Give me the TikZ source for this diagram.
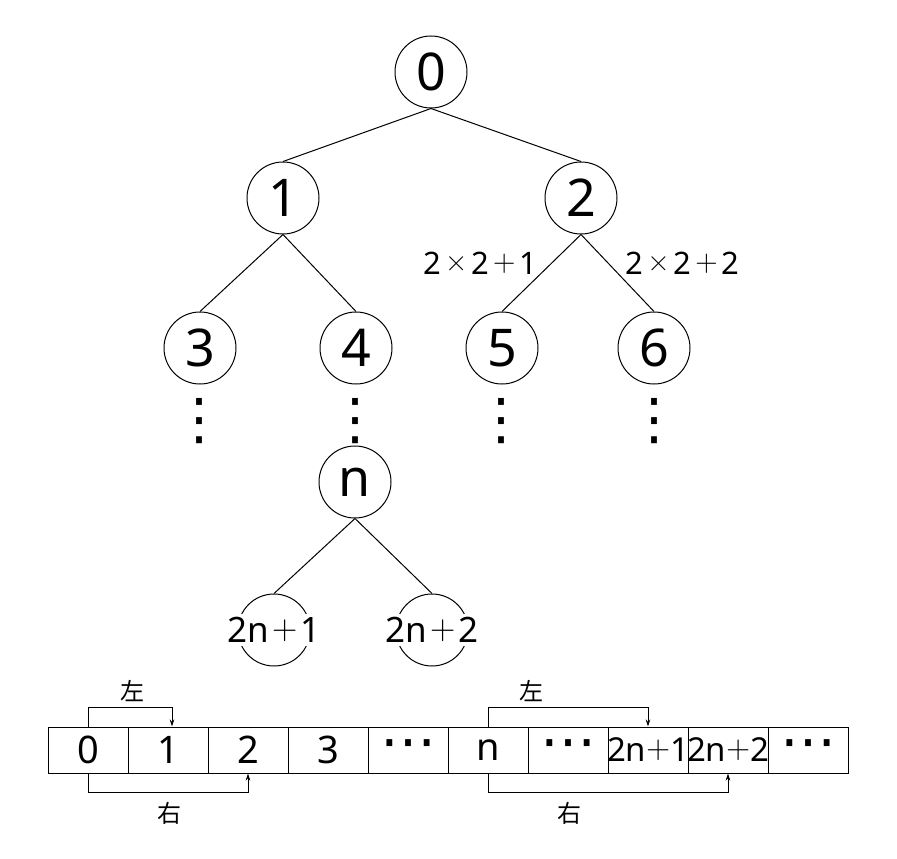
\documentclass[tikz,border=0pt]{standalone}
\usepackage{fontspec}
\setmainfont{Noto Sans}
\newfontfamily\cjk{Noto Sans CJK SC}
\newfontfamily\symf{DejaVu Sans}
\newfontfamily\lmf{Latin Modern Roman}
\usetikzlibrary{arrows.meta}
\newcommand{\mplus}[1][.08em]{\kern#1\raisebox{.1em}{\lmf +}\kern#1}
\newcommand{\mtimes}[1][.05em]{\kern#1\raisebox{.1em}{\lmf ×}\kern#1}
\begin{document}
\begin{tikzpicture}[x=1pt,y=-1pt,
 tnode/.style={circle,draw,line width=1pt,minimum size=72pt,inner sep=0pt,font=\fontsize{52}{52}\selectfont},
 ring/.style={circle,draw,line width=1pt,minimum size=72pt,inner sep=0pt},
 ringtext/.style={fill=white,inner xsep=1pt,inner ysep=3pt,font=\fontsize{35}{35}\selectfont},
 edge/.style={line width=1pt},
 elabel/.style={inner sep=0pt,font=\fontsize{31}{31}\selectfont},
 vdotsn/.style={inner sep=0pt,font=\symf\fontsize{56}{56}\selectfont},
 cell/.style={rectangle,draw,line width=1pt,minimum width=80pt,minimum height=46pt,inner sep=0pt,font=\fontsize{38}{38}\selectfont},
 celldots/.style={cell,font=\symf\fontsize{56}{56}\selectfont},
 smallcell/.style={cell,font=\fontsize{33}{33}\selectfont},
 arr/.style={line width=0.8pt,-{Stealth[length=7pt,width=4.5pt]}},
 cjklabel/.style={inner sep=0pt,font=\cjk\fontsize{24}{24}\selectfont}]
\useasboundingbox (0,0) rectangle (897,859);
% tree
\node[tnode] (n0) at (431,72) {0};
\node[tnode] (n1) at (283,198) {1};
\node[tnode] (n2) at (581,198) {2};
\node[tnode] (n3) at (200,348) {3};
\node[tnode] (n4) at (356,348) {4};
\node[tnode] (n5) at (502,348) {5};
\node[tnode] (n6) at (654,348) {6};
\node[tnode] (nn) at (355,482) {n};
\node[ring] (c1) at (274,630) {};
\node[ring] (c2) at (432,630) {};
\node[ringtext] (t1) at (c1) {2n\mplus1};
\node[ringtext] (t2) at (c2) {2n\mplus2};
\draw[edge] (n0.south) -- (n1.north);
\draw[edge] (n0.south) -- (n2.north);
\draw[edge] (n1.south) -- (n3.north);
\draw[edge] (n1.south) -- (n4.north);
\draw[edge] (n2.south) -- node[elabel,pos=0.37,anchor=east,xshift=-14pt] (l1) {2\mtimes[.13em]2\mplus[.13em]1} (n5.north);
\draw[edge] (n2.south) -- node[elabel,pos=0.37,anchor=west,xshift=17pt] (l2) {2\mtimes[.13em]2\mplus[.13em]2} (n6.north);
\draw[edge] (nn.south) -- (c1.north);
\draw[edge] (nn.south) -- (c2.north);
\node[vdotsn] (d3) at (199,421) {⋮};
\node[vdotsn] (d4) at (355,421) {⋮};
\node[vdotsn] (d5) at (501,421) {⋮};
\node[vdotsn] (d6) at (654,421) {⋮};
% array
\node[cell] (a0) at (88,750) {0};
\node[cell] (a1) at (168,750) {1};
\node[cell] (a2) at (248,750) {2};
\node[cell] (a3) at (328,750) {3};
\node[celldots] (a4) at (408,750) {⋯};
\node[cell] (a5) at (488,750) {n};
\node[celldots] (a6) at (568,750) {⋯};
\node[smallcell] (a7) at (648,750) {\makebox[0pt]{2n\mplus[0em]1}};
\node[smallcell] (a8) at (728,750) {\makebox[0pt]{2n\mplus[0em]2}};
\node[celldots] (a9) at (808,750) {⋯};
% arrows
\draw[arr] (a0.north) -- ++(0,-19) -| ([xshift=4pt]a1.north);
\draw[arr] (a0.south) -- ++(0,19) -| (a2.south);
\draw[arr] (a5.north) -- ++(0,-19) -| (a7.north);
\draw[arr] (a5.south) -- ++(0,19) -| (a8.south);
\node[cjklabel] (z1) at (132,691) {左};
\node[cjklabel] (z2) at (531,691) {左};
\node[cjklabel] (y1) at (169,813) {右};
\node[cjklabel] (y2) at (569,813) {右};
\end{tikzpicture}
\end{document}
